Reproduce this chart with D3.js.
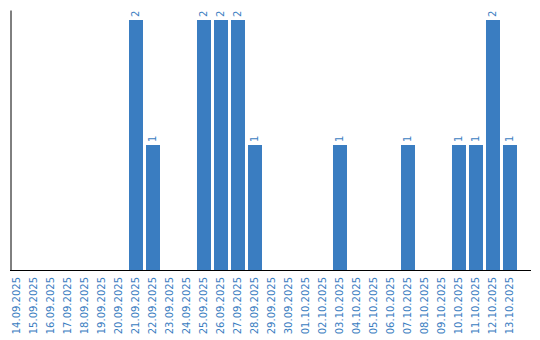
<!DOCTYPE html>
<html>
<head>
<meta charset="utf-8">
<script src="https://cdn.jsdelivr.net/npm/d3@7"></script>
<style>
	body { margin: 0; background: #fff; }
	svg { display: block; }
	text { font-family: "DejaVu Sans", Verdana, sans-serif; }
</style>
</head>
<body>
<div id="chart"></div>
<script>
/***********************************************************************/
//Data
/***********************************************************************/
const dates = [
	'14.09.2025', '15.09.2025', '16.09.2025', '17.09.2025', '18.09.2025',
	'19.09.2025', '20.09.2025', '21.09.2025', '22.09.2025', '23.09.2025',
	'24.09.2025', '25.09.2025', '26.09.2025', '27.09.2025', '28.09.2025',
	'29.09.2025', '30.09.2025', '01.10.2025', '02.10.2025', '03.10.2025',
	'04.10.2025', '05.10.2025', '06.10.2025', '07.10.2025', '08.10.2025',
	'09.10.2025', '10.10.2025', '11.10.2025', '12.10.2025', '13.10.2025'
]
const counts = [
	0, 0, 0, 0, 0,
	0, 0, 2, 1, 0,
	0, 2, 2, 2, 1,
	0, 0, 0, 0, 1,
	0, 0, 0, 1, 0,
	0, 1, 1, 2, 1
]
const yMax = 2.08

/***********************************************************************/
//Plot Area
/***********************************************************************/
const width = 540
const height = 340
const margin = {
	left : 10,
	right : 531,
	top : 10,
	bottom : 270
}
const blue = '#3a7dc1'

const svg = d3.select('#chart')
	.append('svg')
	.attr('width', width)
	.attr('height', height)

/***********************************************************************/
//Scale
/***********************************************************************/
const xScale = d3.scaleBand()
	.domain(dates)
	.range([margin.left, margin.right])
	.paddingInner(3 / 17)
	.paddingOuter(0.412)
	.align(0)

const yScale = d3.scaleLinear()
	.domain([0, yMax])
	.range([margin.bottom, margin.top])

/***********************************************************************/
//Plotting
/***********************************************************************/
const data = dates.map((d, i) => ({ date : d, value : counts[i] }))

svg.append('g')
	.selectAll('rect')
	.data(data.filter(d => d.value > 0))
	.join('rect')
	.attr('x', d => xScale(d.date))
	.attr('y', d => yScale(d.value))
	.attr('width', xScale.bandwidth())
	.attr('height', d => yScale(0) - yScale(d.value))
	.attr('fill', blue)

svg.append('g')
	.selectAll('text')
	.data(data.filter(d => d.value > 0))
	.join('text')
	.attr('transform', d => `translate(${xScale(d.date) + xScale.bandwidth() / 2},${yScale(d.value) - 3}) rotate(-90)`)
	.attr('dy', '0.35em')
	.attr('text-anchor', 'start')
	.attr('font-size', '10px')
	.attr('fill', blue)
	.text(d => d.value)

/***********************************************************************/
//Axes
/***********************************************************************/
const xAxis = d3.axisBottom(xScale)
	.tickSize(0)
	.tickSizeOuter(0)
	.tickPadding(0)

const xAxisG = svg.append('g')
	.attr('transform', `translate(0,${margin.bottom})`)
	.call(xAxis)

xAxisG.select('.domain')
	.attr('stroke', '#000')
	.attr('d', `M${margin.left},0.5H${margin.right}`)

xAxisG.selectAll('.tick text')
	.attr('transform', 'translate(0,7) rotate(-90)')
	.attr('x', 0)
	.attr('y', 0)
	.attr('dy', '0.35em')
	.attr('text-anchor', 'end')
	.attr('font-size', '10px')
	.attr('font-family', '"DejaVu Sans", Verdana, sans-serif')
	.attr('fill', blue)

const yAxis = d3.axisLeft(yScale)
	.ticks(0)
	.tickSize(0)
	.tickSizeOuter(0)

svg.append('g')
	.attr('transform', `translate(${margin.left + 0.5},0)`)
	.call(yAxis)
	.select('.domain')
	.attr('stroke', '#000')
</script>
</body>
</html>
